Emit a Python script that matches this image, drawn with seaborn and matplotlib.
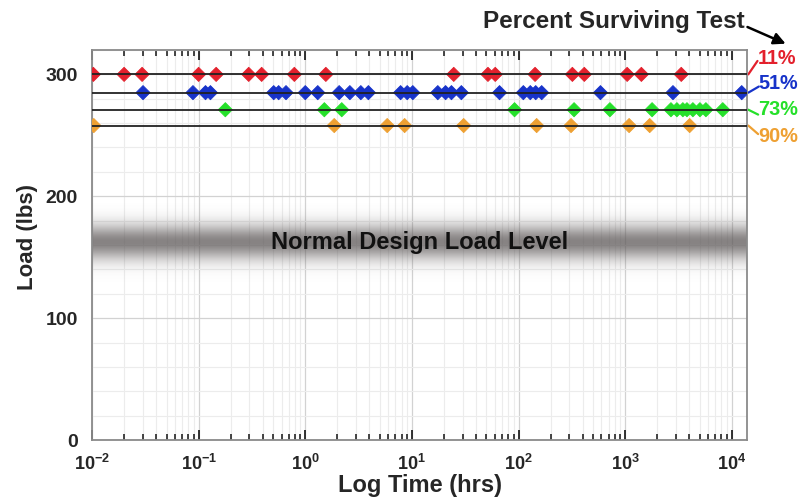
#!/usr/bin/python -tt

"""
Load vs log time to failure, with percent surviving levels
"""

import numpy as np
import pandas as pd
import seaborn as sns
import matplotlib.pyplot as plt
import matplotlib.ticker as mticker
from matplotlib.transforms import blended_transform_factory

# survival levels and the load (lbs) held for each
pct_labels = ['11%', '51%', '73%', '90%']
loads = [300, 285, 271, 258]
colors = ['#e3202c', '#1733c9', '#25e02a', '#eea032']

# failure times (hrs)
t_11 = [0.0103, 0.020, 0.0295, 0.10, 0.146, 0.295, 0.39, 0.79, 1.56,
        24.7, 51.7, 60.5, 143, 320, 414, 1045, 1420, 3360]
t_51 = [0.0301, 0.0885, 0.116, 0.129, 0.506, 0.563, 0.66, 1.0, 1.31, 2.08,
        2.62, 3.32, 3.91, 7.84, 9.04, 10.2, 17.5, 20.7, 23.5, 29.1, 66.4,
        111, 129, 145, 165, 587, 2810, 12400]
t_73 = [0.178, 1.51, 2.20, 91.8, 332, 720, 1790, 2690, 3060, 3480, 3800,
        4320, 5030, 5720, 8240]
t_90 = [0.0104, 1.87, 5.87, 8.55, 30.6, 148, 311, 1090, 1700, 4030]

# decade ticks on the time axis
x_decades = [1e-2, 1e-1, 1e0, 1e1, 1e2, 1e3, 1e4]

design_load = 162
band_text = 'Normal Design Load Level'


def main():

  sns.set_style('white')
  plt.rcParams['font.family'] = ['Liberation Sans', 'DejaVu Sans']
  plt.rcParams['font.weight'] = 'bold'
  plt.rcParams['mathtext.fontset'] = 'custom'
  plt.rcParams['mathtext.rm'] = 'Liberation Sans:bold'
  plt.rcParams['mathtext.bf'] = 'Liberation Sans:bold'
  plt.rcParams['mathtext.default'] = 'bf'

  times = [t_11, t_51, t_73, t_90]
  rows = []
  for lab, ld, ts in zip(pct_labels, loads, times):
    for t in ts:
      rows.append({'time': t, 'load': ld, 'pct': lab})
  df = pd.DataFrame(rows)

  fig = plt.figure(figsize=(8.01, 4.98), dpi=100)
  ax = fig.add_axes([92 / 801, 58 / 498, 655 / 801, 390 / 498])

  ax.set_xscale('log')
  ax.set_xlim(0.01, 13900)
  ax.set_ylim(0, 320)

  # grey blurred band for the design load
  yy = np.linspace(0, 320, 641)
  alpha = 0.76 * np.exp(-0.5 * ((yy - design_load) / 10) ** 2)
  img = np.zeros((len(yy), 2, 4))
  img[..., 0] = 0.38
  img[..., 1] = 0.36
  img[..., 2] = 0.36
  img[..., 3] = alpha[:, None]
  tr = blended_transform_factory(ax.transAxes, ax.transData)
  ax.imshow(img, extent=[0, 1, 0, 320], origin='lower', aspect='auto',
            transform=tr, zorder=1, interpolation='bilinear')

  sns.scatterplot(data=df, x='time', y='load', hue='pct', hue_order=pct_labels,
                  palette=colors, marker='D', s=52, linewidth=0.6,
                  edgecolor=None, legend=False, ax=ax, zorder=3)
  for ld in loads:
    ax.axhline(ld, color='#222222', lw=1.3, zorder=4)

  # grid
  ax.yaxis.set_major_locator(mticker.MultipleLocator(100))
  ax.yaxis.set_minor_locator(mticker.MultipleLocator(20))
  ax.xaxis.set_major_locator(mticker.FixedLocator(x_decades))
  ax.xaxis.set_major_formatter(mticker.LogFormatterSciNotation())
  minor = [d * k for d in x_decades for k in range(2, 10) if d * k < 13900]
  ax.xaxis.set_minor_locator(mticker.FixedLocator(minor))
  ax.xaxis.set_minor_formatter(mticker.NullFormatter())
  ax.grid(which='major', color='#d2d2d2', lw=0.9, zorder=0)
  ax.grid(which='minor', color='#ececec', lw=0.8, zorder=0)
  ax.set_axisbelow(True)

  ax.tick_params(axis='x', which='major', direction='in', top=True, bottom=True,
                 length=7, width=1.2, color='#111111', labelsize=13, pad=10)
  ax.tick_params(axis='x', which='minor', direction='in', top=True, bottom=True,
                 length=4, width=1.1, color='#111111')
  ax.tick_params(axis='y', which='major', direction='in', left=True, length=0,
                 labelsize=14, pad=10)
  ax.tick_params(axis='y', which='minor', length=0)

  for sp in ax.spines.values():
    sp.set_color('#8a8a8a')
    sp.set_linewidth(1.3)

  ax.set_xlabel('Log Time (hrs)', fontsize=17, fontweight='bold')
  ax.set_ylabel('Load (lbs)', fontsize=16, fontweight='bold')
  ax.xaxis.set_label_coords(0.5, -0.088)
  ax.yaxis.set_label_coords(-0.082, 0.52)

  ax.text(0.5, design_load, band_text, transform=tr, ha='center', va='center',
          fontsize=17, fontweight='bold', color='#111111', zorder=5)

  # percent labels on the right with short leader lines
  txt_y = [313, 292.5, 271, 249]
  lead_end = [(1.016, 311), (1.018, 290), (1.017, 267), (1.017, 251)]
  for lab, ld, c, ty, (lx, ly) in zip(pct_labels, loads, colors, txt_y, lead_end):
    ax.plot([1.002, lx], [ld, ly], transform=tr, color=c, lw=1.6, clip_on=False)
    ax.text(1.017, ty, lab, transform=tr, ha='left', va='center', color=c,
            fontsize=14.3, fontweight='bold')

  fig.text(0.930, 0.956, 'Percent Surviving Test', ha='right', va='center',
           fontsize=17.5, fontweight='bold')
  ax.annotate('', xy=(0.984, 0.91), xycoords='figure fraction',
              xytext=(0.93, 0.948), textcoords='figure fraction',
              arrowprops=dict(arrowstyle='-|>,head_length=0.7,head_width=0.35',
                              color='black', lw=1.8))

  plt.savefig('out.png', dpi=100)


if __name__ == '__main__':
  main()
